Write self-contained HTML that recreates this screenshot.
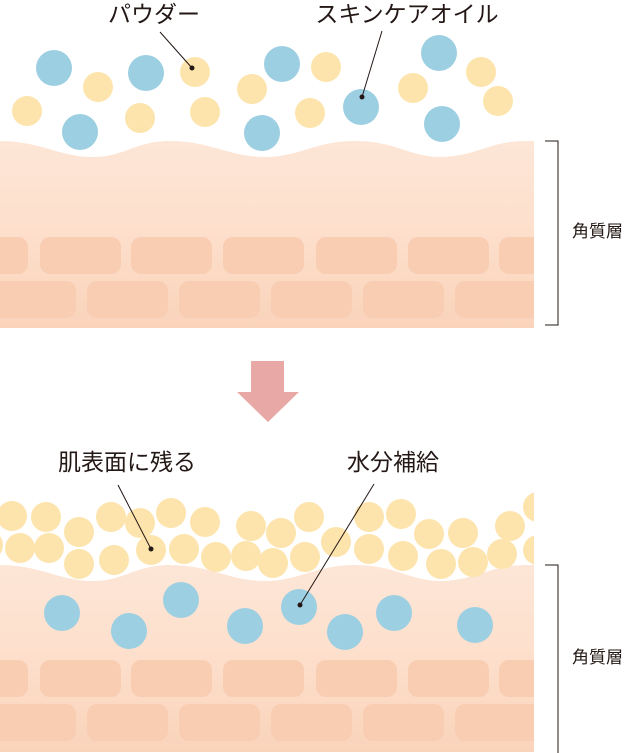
<!DOCTYPE html>
<html><head><meta charset="utf-8"><style>
html,body{margin:0;padding:0;background:#fff;}
svg{display:block;}
text{font-family:"Liberation Sans","Noto Sans CJK JP",sans-serif;fill:#231815;}
</style></head><body>
<svg width="625" height="753" viewBox="0 0 625 753" xmlns="http://www.w3.org/2000/svg">
<defs>
<linearGradient id="sk" x1="0" y1="0" x2="0" y2="1">
<stop offset="0" stop-color="#fde6d7"/><stop offset="0.45" stop-color="#fde0cd"/><stop offset="1" stop-color="#fad3ba"/>
</linearGradient>
<clipPath id="cl"><rect x="0" y="0" width="534" height="753"/></clipPath>
<g id="cells" fill="#f8cdb2">
<rect x="-20" y="0" width="48" height="37" rx="10"/>
<rect x="40" y="0" width="81" height="37" rx="10"/>
<rect x="131" y="0" width="81" height="37" rx="10"/>
<rect x="223" y="0" width="81" height="37" rx="10"/>
<rect x="316" y="0" width="81" height="37" rx="10"/>
<rect x="408" y="0" width="81" height="37" rx="10"/>
<rect x="499" y="0" width="50" height="37" rx="10"/>
<rect x="-20" y="44" width="96" height="37" rx="10"/>
<rect x="87" y="44" width="81" height="37" rx="10"/>
<rect x="179" y="44" width="81" height="37" rx="10"/>
<rect x="271" y="44" width="81" height="37" rx="10"/>
<rect x="363" y="44" width="81" height="37" rx="10"/>
<rect x="455" y="44" width="90" height="37" rx="10"/>
</g>
</defs>

<!-- TOP PANEL -->
<g clip-path="url(#cl)">
<path d="M0,141 C40,141 60,157 92,157 C125,157 135,141 170,141 C210,141 230,157 264,157 C300,157 315,141 355,141 C395,141 410,157 440,157 C475,157 490,141 525,141 L534,141 L534,328 L0,328 Z" fill="url(#sk)"/>
<use href="#cells" x="0" y="237"/>
</g>
<g fill="#9dcfe2">
<ellipse cx="54" cy="68" rx="18" ry="18"/><ellipse cx="146" cy="73" rx="18" ry="18"/>
<ellipse cx="80" cy="132" rx="18" ry="18"/><ellipse cx="282" cy="64" rx="18" ry="18"/>
<ellipse cx="262" cy="133" rx="18" ry="18"/><ellipse cx="361" cy="107" rx="18" ry="18"/>
<ellipse cx="439" cy="53" rx="18" ry="18"/><ellipse cx="442" cy="124" rx="18" ry="18"/>
</g>
<g fill="#fde4ad">
<circle cx="27" cy="111" r="15"/><circle cx="98" cy="87" r="15"/><circle cx="140" cy="118" r="15"/>
<circle cx="195" cy="72" r="15"/><circle cx="205" cy="112" r="15"/><circle cx="252" cy="89" r="15"/>
<circle cx="326" cy="67" r="15"/><circle cx="310" cy="113" r="15"/><circle cx="413" cy="88" r="15"/>
<circle cx="481" cy="72" r="15"/><circle cx="498" cy="101" r="15"/>
</g>
<g stroke="#231815" stroke-width="1" fill="none">
<line x1="160" y1="32" x2="192" y2="68"/>
<line x1="382" y1="31" x2="362" y2="97"/>
<polyline points="545,141 558,141 558,325 545,325"/>
</g>
<circle cx="192" cy="68" r="2.5" fill="#231815"/>
<circle cx="362" cy="97" r="2.5" fill="#231815"/>
<text x="154" y="22" font-size="23" text-anchor="middle">パウダー</text>
<text x="407" y="22" font-size="23" text-anchor="middle">スキンケアオイル</text>
<text x="572" y="237" font-size="17">角質層</text>

<!-- ARROW -->
<polygon points="251,361 284,361 284,392 299,392 268,422 237,392 251,392" fill="#e8a8a6"/>

<!-- BOTTOM PANEL -->
<g clip-path="url(#cl)">
<path d="M0,565 C40,565 60,581 92,581 C125,581 135,565 170,565 C210,565 230,581 264,581 C300,581 315,565 355,565 C395,565 410,581 440,581 C475,581 490,565 525,565 L534,565 L534,752 L0,752 Z" fill="url(#sk)"/>
<use href="#cells" x="0" y="660"/>
<g fill="#fde4ad">
<circle cx="12" cy="516" r="15"/><circle cx="46" cy="517" r="15"/><circle cx="79" cy="532" r="15"/>
<circle cx="111" cy="517" r="15"/><circle cx="140" cy="523" r="15"/><circle cx="171" cy="513" r="15"/>
<circle cx="205" cy="522" r="15"/><circle cx="251" cy="526" r="15"/><circle cx="281" cy="533" r="15"/>
<circle cx="309" cy="517" r="15"/><circle cx="336" cy="542" r="15"/><circle cx="369" cy="517" r="15"/>
<circle cx="401" cy="514" r="15"/><circle cx="429" cy="534" r="15"/><circle cx="463" cy="533" r="15"/>
<circle cx="510" cy="526" r="15"/><circle cx="538" cy="507" r="15"/>
<circle cx="20" cy="548" r="15"/><circle cx="49" cy="548" r="15"/><circle cx="79" cy="564" r="15"/>
<circle cx="114" cy="560" r="15"/><circle cx="151" cy="550" r="15"/><circle cx="184" cy="549" r="15"/>
<circle cx="216" cy="557" r="15"/><circle cx="246" cy="556" r="15"/><circle cx="273" cy="563" r="15"/>
<circle cx="305" cy="557" r="15"/><circle cx="369" cy="549" r="15"/><circle cx="403" cy="556" r="15"/>
<circle cx="441" cy="564" r="15"/><circle cx="473" cy="562" r="15"/><circle cx="502" cy="554" r="15"/>
<circle cx="538" cy="550" r="15"/><circle cx="-12" cy="545" r="15"/>
</g>
</g>
<g fill="#9dcfe2">
<ellipse cx="62" cy="613" rx="18" ry="18"/><ellipse cx="129" cy="631" rx="18" ry="18"/>
<ellipse cx="181" cy="600" rx="18" ry="18"/><ellipse cx="245" cy="626" rx="18" ry="18"/>
<ellipse cx="299" cy="607" rx="18" ry="18"/><ellipse cx="345" cy="632" rx="18" ry="18"/>
<ellipse cx="394" cy="613" rx="18" ry="18"/><ellipse cx="475" cy="625" rx="18" ry="18"/>
</g>
<g stroke="#231815" stroke-width="1" fill="none">
<line x1="118" y1="485" x2="151" y2="549"/>
<line x1="374" y1="484" x2="300" y2="605"/>
<polyline points="545,565 558,565 558,753"/>
</g>
<circle cx="151" cy="549" r="2.5" fill="#231815"/>
<circle cx="300" cy="605" r="2.5" fill="#231815"/>
<text x="127" y="470" font-size="23" text-anchor="middle">肌表面に残る</text>
<text x="393" y="470" font-size="23" text-anchor="middle">水分補給</text>
<text x="572" y="663" font-size="17">角質層</text>
</svg>
</body></html>
